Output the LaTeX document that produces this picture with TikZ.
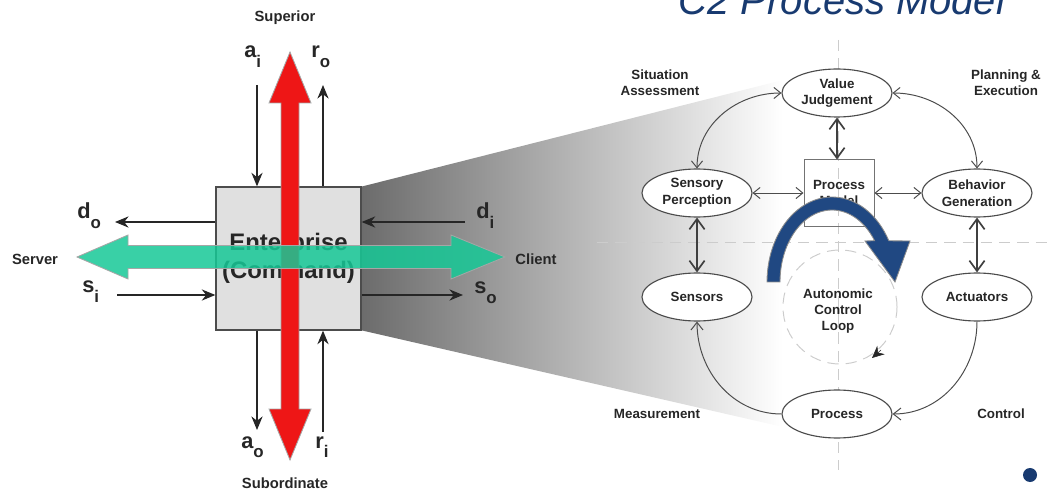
\documentclass[tikz,border=0pt]{standalone}
\usepackage{fontspec}
\setmainfont{Liberation Sans}
\usepackage{xcolor}
\usetikzlibrary{arrows.meta,shapes.geometric,positioning}

\definecolor{cmdred}{RGB}{238,22,22}
\definecolor{cmdgreen}{RGB}{22,200,150}
\definecolor{ctwoblue}{RGB}{24,58,112}
\definecolor{loopblue}{RGB}{32,72,130}

\newcommand{\flowlbl}[2]{{\fontsize{15.5}{15.5}\selectfont #1}\raisebox{-7pt}{\fontsize{12}{12}\selectfont #2}}

\tikzset{
  lbl/.style={font=\bfseries\fontsize{10.5}{12.5}\selectfont, text=black!85, align=center},
  sidelbl/.style={font=\bfseries\fontsize{9.5}{11.5}\selectfont, text=black!85, align=center},
  flowtxt/.style={anchor=base west, inner sep=0pt, font=\bfseries, text=black!85},
  oval/.style={ellipse, draw=black!70, fill=white, line width=0.8pt, minimum width=2.75cm,
    minimum height=1.2cm, inner sep=0pt, font=\bfseries\fontsize{9.5}{11.8}\selectfont,
    text=black!85, align=center},
  sig/.style={-{Stealth[length=3.4mm,width=2.8mm]}, black!85, line width=0.9pt},
  flow/.style={{Straight Barb[length=1.7mm,width=2.8mm]}-{Straight Barb[length=1.7mm,width=2.8mm]},
    black!70, line width=0.7pt},
  bigflow/.style={{Straight Barb[length=2.6mm,width=3.8mm,line width=1.2pt]}-{Straight Barb[length=2.6mm,width=3.8mm,line width=1.2pt]},
    black!75, line width=0.8pt},
  oneway/.style={-{Straight Barb[length=1.9mm,width=3mm]}, black!70, line width=0.7pt},
  guide/.style={black!20, dashed, dash pattern=on 8pt off 5pt, line width=0.7pt},
}

\begin{document}
\begin{tikzpicture}[x=0.025cm, y=0.025cm]
\useasboundingbox (0,0) rectangle (1053,-491);
% funnel from the enterprise box into the C2 model
\shade[left color=black!58, right color=white] (360,-187) -- (783,-80) -- (783,-427) -- (360,-330) -- cycle;
% enterprise box
\node[draw=black!70, fill=black!12, line width=0.9pt, minimum width=3.625cm, minimum height=3.575cm,
  font=\bfseries\fontsize{17}{19.5}\selectfont, text=black!85, align=center] (ent) at (288.5,-258.5) {Enterprise\\(Command)};
% flows in and out of the box
\coordinate (ai) at (257,-85);
\coordinate (ro) at (323,-85);
\coordinate (do) at (115,-222);
\coordinate (di) at (465,-222);
\coordinate (si) at (117,-295);
\coordinate (so) at (463,-295);
\coordinate (ao) at (257,-430);
\coordinate (ri) at (323,-432);
\draw[sig] (ai) -- (ai |- ent.north); % a_i
\draw[sig] (ro |- ent.north) -- (ro); % r_o
\draw[sig] (do -| ent.west) -- (do); % d_o
\draw[sig] (di) -- (di -| ent.east); % d_i
\draw[sig] (si) -- (si -| ent.west); % s_i
\draw[sig] (so -| ent.east) -- (so); % s_o
\draw[sig] (ao |- ent.south) -- (ao); % a_o
\draw[sig] (ri) -- (ri |- ent.south); % r_i
%%Labels of the flows
\node[flowtxt] (lai) at (244,-58) {\flowlbl{a}{i}};
\node[flowtxt] (lro) at (311,-58) {\flowlbl{r}{o}};
\node[flowtxt] (ldo) at (77,-219) {\flowlbl{d}{o}};
\node[flowtxt] (ldi) at (476,-219) {\flowlbl{d}{i}};
\node[flowtxt] (lsi) at (82,-293) {\flowlbl{s}{i}};
\node[flowtxt] (lso) at (474,-294) {\flowlbl{s}{o}};
\node[flowtxt] (lao) at (241,-448) {\flowlbl{a}{o}};
\node[flowtxt] (lri) at (315,-448) {\flowlbl{r}{i}};
% superior / subordinate arrow
\filldraw[fill=cmdred, draw=black!35, line width=0.6pt] (290,-52) -- (311,-103) -- (299,-103) -- (299,-409)
  -- (311,-409) -- (290,-460) -- (269,-409) -- (281,-409) -- (281,-103) -- (269,-103) -- cycle;
% server / client arrow
\filldraw[fill=cmdgreen, fill opacity=0.85, draw=black!35, line width=0.6pt] (77,-257) -- (128,-235) -- (128,-245.5)
  -- (451,-245.5) -- (451,-235) -- (505,-257) -- (451,-279) -- (451,-268.5) -- (128,-268.5) -- (128,-279) -- cycle;
\node[lbl] (sup) at (285,-18) {Superior};
\node[lbl] (sub) at (285,-483) {Subordinate};
\node[lbl] (srv) at (35,-259) {Server};
\node[lbl] (cli) at (536,-259) {Client};

% C2 process model
\draw[guide] (838,-40) -- (838,-470);
\draw[guide] (597,-242) -- (1053,-242);
\draw[guide] (840,-307) circle[radius=1.425cm];
\draw[-{Stealth[length=3mm,width=2.8mm]}, black!85] (881,-350) -- (872,-358);
\node[oval] (vj) at (837,-93) {Value\\Judgement};
\node[oval] (sp) at (697,-193) {Sensory\\Perception};
\node[oval] (bg) at (977,-193) {Behavior\\Generation};
\node[oval] (se) at (697,-297) {Sensors};
\node[oval] (ac) at (977,-297) {Actuators};
\node[oval] (pr) at (837,-414) {Process};
\node[draw=black!55, line width=0.7pt, minimum width=1.75cm, minimum height=1.65cm, inner sep=0pt,
  font=\bfseries\fontsize{9.5}{11}\selectfont, text=black!85, align=center] (pm) at (839,-193) {Process\\Model};
\node[sidelbl] (acl) at (838,-311) {Autonomic\\Control\\Loop};
\draw[flow] (vj.west) to[out=180,in=90] (sp.north);
\draw[flow] (vj.east) to[out=0,in=90] (bg.north);
\draw[bigflow] (vj.south) -- (vj.south |- pm.north);
\draw[flow] (sp.east) -- (pm.west);
\draw[flow] (pm.east) -- (bg.west);
\draw[bigflow] (sp.south) -- (se.north);
\draw[bigflow] (bg.south) -- (ac.north);
\draw[oneway] (ac.south) to[out=-90,in=0] (pr.east);
\draw[oneway] (pr.west) to[out=180,in=-90] (se.south);
%%Labels of the quadrants
\node[sidelbl] (sa) at (660,-83) {Situation\\Assessment};
\node[sidelbl] (pe) at (1006,-83) {Planning \&\\Execution};
\node[sidelbl] (me) at (657,-414) {Measurement};
\node[sidelbl] (co) at (1001,-414) {Control};
% curved loop arrow
\filldraw[fill=loopblue, draw=black!45, line width=0.6pt]
  plot[domain=180:29, samples=40, variable=\t] ({832+65*cos(\t)},{-282+85*sin(\t)})
  -- (910,-241) -- (895,-282) -- (865,-241)
  -- plot[domain=35:180, samples=40, variable=\t] ({832+52*cos(\t)},{-282+72*sin(\t)}) -- cycle;
% title and bullet
\node[anchor=base, inner sep=0pt, font=\itshape\fontsize{28.4}{30}\selectfont, text=ctwoblue] (title) at (842,-15) {C2 Process Model};
\fill[ctwoblue] (1030,-475) circle[radius=0.175cm];
\end{tikzpicture}
\end{document}
